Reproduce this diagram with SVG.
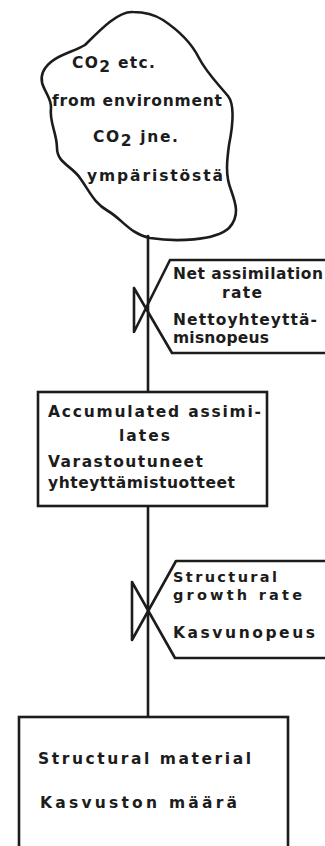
<svg xmlns="http://www.w3.org/2000/svg" width="325" height="846" viewBox="0 0 325 846">
<style>
.ln{fill:none;stroke:#1c1c1c;stroke-width:2.6;stroke-linejoin:round;stroke-linecap:round}
.bx{fill:#fff;stroke:#1c1c1c;stroke-width:2.6}
.t{font-family:"DejaVu Sans","Liberation Sans",sans-serif;font-weight:bold;font-size:15.5px;fill:#1c1c1c}
.s{font-size:14.5px}
</style>
<rect width="325" height="846" fill="#fff"/>
<g id="connectors">
<line class="ln" x1="148" y1="236" x2="148" y2="392"/>
<line class="ln" x1="148" y1="506" x2="148" y2="717"/>
</g>
<g id="cloud">
<path class="ln" d="M133,12 C118,11 100,30 85,45 C72,53 50,56 43,72 C37,86 52,95 51,108 C49,122 57,133 57,148 C57,163 72,166 80,178 C90,192 94,203 108,211 C122,219 130,234 150,238 C175,242 215,241 229,228 C240,216 236,204 231,190 C225,175 227,160 229,145 C233,125 235,105 228,96 C218,84 206,72 199,58 C191,42 178,30 163,20 C152,13 142,12 133,12 Z"/>
<text class="t" x="72" y="68" textLength="83" lengthAdjust="spacing">CO<tspan dy="4">2</tspan><tspan dy="-4"> etc.</tspan></text>
<text class="t" x="52" y="106" textLength="170" lengthAdjust="spacing">from environment</text>
<text class="t" x="93" y="142" textLength="85" lengthAdjust="spacing">CO<tspan dy="4">2</tspan><tspan dy="-4">  jne.</tspan></text>
<text class="t" x="87" y="181" textLength="136" lengthAdjust="spacing">ympäristöstä</text>
</g>
<g id="valve1">
<path class="ln" d="M134,288 L134,332 L170,260 L330,260 M134,288 L172,353 L330,353"/>
<text class="t" x="173" y="279" textLength="150" lengthAdjust="spacing">Net assimilation</text>
<text class="t" x="222" y="298" textLength="40" lengthAdjust="spacing">rate</text>
<text class="t" x="173" y="325" textLength="144" lengthAdjust="spacing">Nettoyhteyttä-</text>
<text class="t" x="173" y="343" textLength="96" lengthAdjust="spacing">misnopeus</text>
</g>
<g id="box1">
<rect class="bx" x="38" y="392" width="229" height="114"/>
<text class="t" x="48" y="417" textLength="213" lengthAdjust="spacing">Accumulated assimi-</text>
<text class="t" x="119" y="441" textLength="51" lengthAdjust="spacing">lates</text>
<text class="t" x="48" y="467" textLength="155" lengthAdjust="spacing">Varastoutuneet</text>
<text class="t" x="48" y="488" textLength="187" lengthAdjust="spacing">yhteyttämistuotteet</text>
</g>
<g id="valve2">
<path class="ln" d="M132,582 L132,640 L176,561 L330,561 M132,582 L175,658 L330,658"/>
<text class="t s" x="173" y="582" textLength="104" lengthAdjust="spacing">Structural</text>
<text class="t s" x="173" y="600" textLength="129" lengthAdjust="spacing">growth rate</text>
<text class="t" x="173" y="638" textLength="142" lengthAdjust="spacing">Kasvunopeus</text>
</g>
<g id="box2">
<rect class="bx" x="19" y="717" width="269" height="140"/>
<text class="t" x="38" y="764" textLength="213" lengthAdjust="spacing">Structural material</text>
<text class="t" x="40" y="808" textLength="197" lengthAdjust="spacing">Kasvuston määrä</text>
</g>
</svg>
